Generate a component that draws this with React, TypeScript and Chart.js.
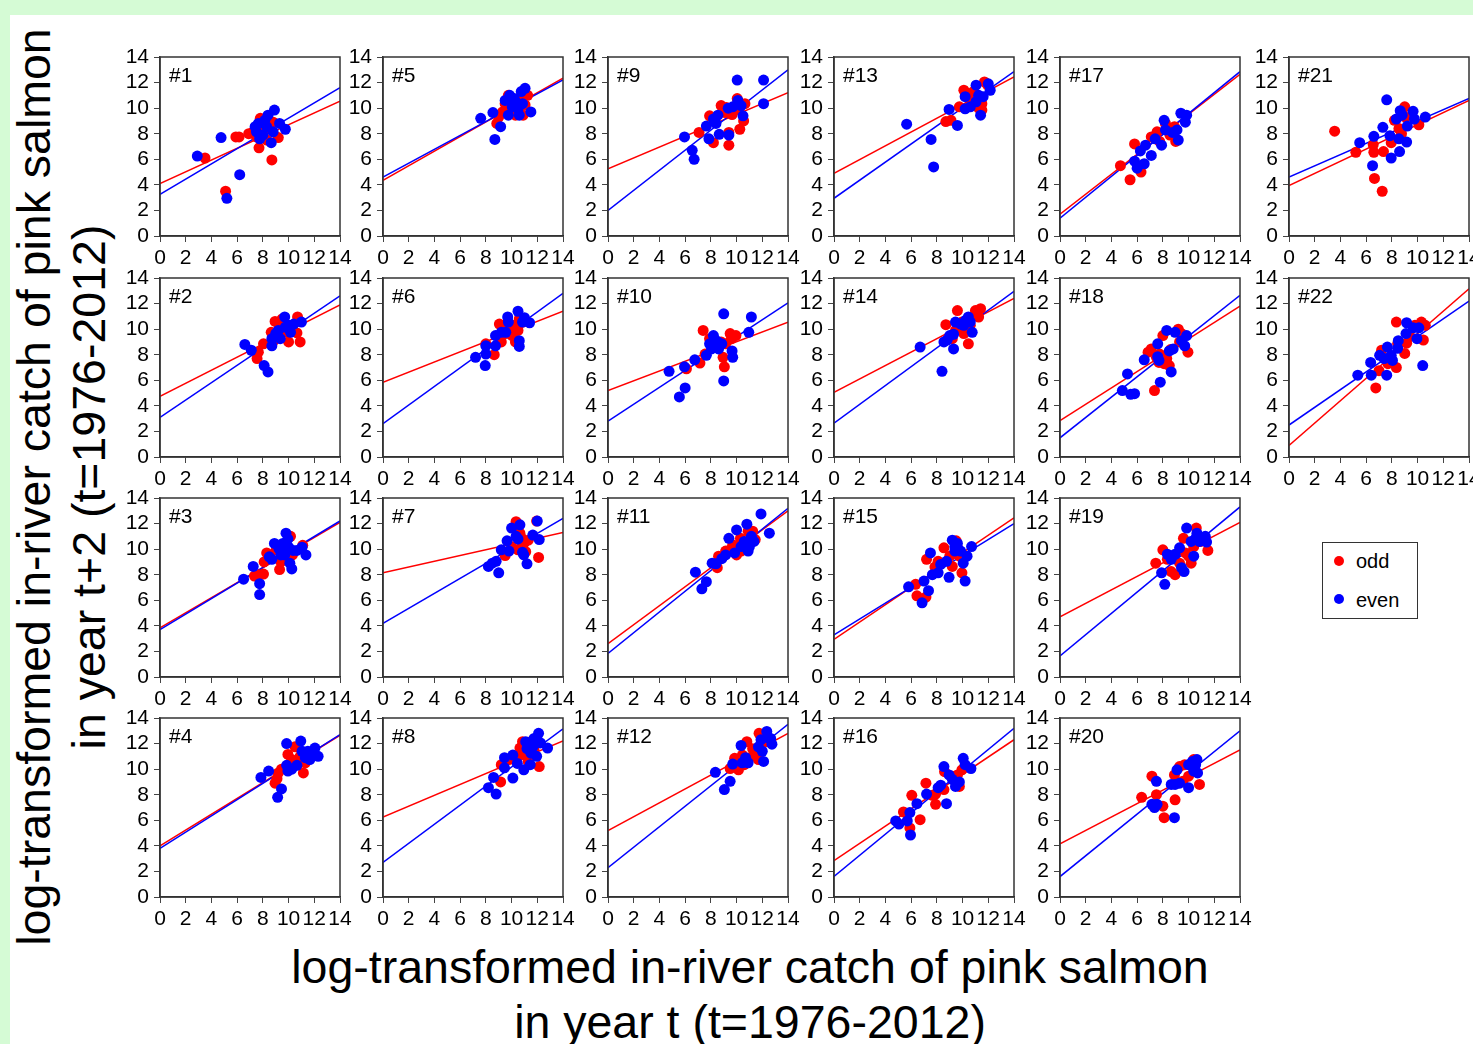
import React, { useEffect, useRef } from 'react';
import { Chart, registerables } from 'chart.js';

Chart.register(...registerables);

type Pt = [number, number];

// ---------- data ----------
const axisTicks = [0, 2, 4, 6, 8, 10, 12, 14];
const panelNames = ['#1', '#2', '#3', '#4', '#5', '#6', '#7', '#8', '#9', '#10', '#11',
  '#12', '#13', '#14', '#15', '#16', '#17', '#18', '#19', '#20', '#21', '#22'];
const legendLabels = ['odd', 'even'];
const yTitleLines = ['log-transformed in-river catch of pink salmon', 'in year t+2 (t=1976-2012)'];
const xTitleLines = ['log-transformed in-river catch of pink salmon', 'in year t (t=1976-2012)'];

// regression lines: [y at x=0, y at x=14]
const oddLines: Pt[] = [
  [4.1, 10.55], [4.75, 11.9], [3.85, 12.1], [4.0, 12.65], [4.35, 12.35], [5.85, 11.4],
  [8.15, 11.3], [6.25, 12.2], [5.25, 11.2], [5.2, 10.55], [2.6, 13.0], [5.2, 12.8],
  [4.9, 12.45], [5.05, 12.4], [2.95, 12.45], [2.85, 12.3], [1.7, 12.65], [2.85, 11.8],
  [4.7, 12.1], [4.15, 11.5], [3.95, 10.6], [0.9, 13.15],
];
const evenLines: Pt[] = [
  [3.25, 11.6], [3.1, 12.6], [3.7, 12.2], [3.8, 12.7], [4.6, 12.2], [2.6, 12.8],
  [4.2, 12.4], [2.7, 13.15], [2.0, 13.0], [2.8, 12.05], [1.85, 13.2], [2.3, 13.5],
  [2.95, 12.85], [2.65, 12.95], [3.3, 12.0], [1.6, 13.2], [1.4, 12.85], [1.5, 12.65],
  [1.65, 13.3], [1.6, 13.0], [4.6, 10.75], [2.5, 12.2],
];

const odd1: Pt[] = [[3.5,6.1],[5.1,3.5],[5.9,7.75],[6.15,7.75],[6.9,8.0],[7.8,9.2],[7.7,6.9],[8.7,5.95],[9.2,7.7],[8.0,8.15],[7.5,7.75],[8.4,8.4],[8.8,8.9],[7.25,8.15],[8.3,7.5]];
const even1: Pt[] = [[2.9,6.25],[4.75,7.7],[6.2,4.8],[5.2,2.95],[8.9,9.85],[9.75,8.35],[9.3,8.8],[8.4,9.45],[7.65,8.8],[7.5,8.15],[8.0,7.9],[8.65,7.3],[8.3,8.55],[7.75,7.6],[8.8,8.15],[8.15,9.05],[7.4,8.55]];
const odd2: Pt[] = [[7.55,7.7],[7.65,8.2],[8.05,8.85],[8.65,9.75],[8.95,10.6],[9.3,10.3],[9.7,9.75],[10.0,9.0],[10.15,10.0],[10.65,9.7],[10.7,10.95],[10.9,9.0],[9.5,10.8],[8.85,9.1]];
const even2: Pt[] = [[6.6,8.8],[7.1,8.35],[8.1,7.15],[8.4,6.65],[8.7,8.7],[8.7,9.25],[9.0,9.65],[9.35,9.25],[9.7,10.95],[9.75,10.15],[10.15,9.75],[10.4,10.4],[11.0,10.55],[9.2,9.9],[10.0,10.3]];
const odd3: Pt[] = [[7.35,7.9],[7.65,8.0],[8.05,8.05],[8.1,9.0],[8.3,9.7],[9.3,8.4],[9.4,9.0],[9.8,9.4],[10.15,11.0],[10.3,9.55],[11.1,10.3],[9.05,9.95],[9.65,10.3]];
const even3: Pt[] = [[6.5,7.65],[7.25,8.65],[7.75,7.3],[7.75,6.45],[8.5,9.4],[8.7,9.2],[8.9,10.45],[9.25,10.05],[9.4,9.55],[9.55,10.45],[9.8,11.25],[9.95,10.8],[10.0,10.15],[10.1,8.9],[10.25,8.45],[10.35,9.9],[10.65,9.9],[11.05,10.15],[11.35,9.55],[9.7,9.55]];
const odd4: Pt[] = [[8.95,8.9],[9.1,9.25],[9.2,9.7],[9.45,10.0],[9.95,11.15],[10.25,10.75],[10.5,11.75],[10.7,10.35],[11.15,9.7],[11.3,10.5],[11.4,11.15],[10.9,11.0]];
const even4: Pt[] = [[7.85,9.35],[8.45,9.85],[9.15,7.8],[9.45,8.45],[9.85,12.0],[9.85,10.3],[9.95,9.85],[10.25,10.0],[10.65,10.3],[10.95,12.2],[11.05,11.4],[11.3,10.9],[11.5,11.4],[11.65,10.75],[12.05,11.65],[12.3,11.0],[11.75,11.3]];
const odd5: Pt[] = [[8.85,8.8],[9.0,9.3],[9.75,11.0],[10.0,10.0],[10.3,9.45],[10.6,10.75],[10.9,9.45],[11.25,11.0],[9.5,10.35],[10.15,10.35],[11.05,10.25],[9.3,9.7]];
const even5: Pt[] = [[7.6,9.2],[8.55,9.65],[8.7,7.55],[9.15,8.55],[9.5,10.6],[9.75,9.45],[10.2,10.75],[10.5,9.95],[10.75,11.3],[11.05,11.55],[10.85,10.35],[11.5,9.7],[10.05,10.1],[10.3,10.5],[9.85,11.0],[10.6,9.45]];
const odd6: Pt[] = [[8.0,8.85],[8.65,8.0],[9.05,10.4],[9.2,9.0],[9.55,9.65],[9.75,10.0],[10.05,9.5],[10.3,9.0],[10.5,9.9],[10.6,10.8],[10.1,10.3],[9.45,10.3]];
const even6: Pt[] = [[7.2,7.8],[7.95,7.15],[8.0,8.05],[8.0,8.7],[8.75,8.7],[8.75,9.5],[9.2,9.75],[9.55,9.75],[9.7,10.95],[9.75,10.55],[10.5,11.4],[10.6,9.1],[10.6,8.65],[11.0,10.9],[11.4,10.5],[10.85,10.55]];
const odd7: Pt[] = [[9.5,9.5],[10.0,10.2],[10.35,12.15],[10.5,9.95],[10.65,11.25],[10.95,10.45],[11.1,9.8],[11.3,10.7],[12.1,9.35],[11.95,12.2],[10.2,11.65],[10.8,10.85]];
const even7: Pt[] = [[8.2,8.65],[8.5,8.9],[8.8,9.05],[9.0,8.15],[9.2,9.95],[9.65,10.65],[9.8,9.85],[10.0,11.65],[10.35,11.0],[10.65,11.9],[10.85,9.75],[10.95,9.55],[11.2,8.85],[11.65,11.1],[12.0,12.2],[12.15,10.75],[10.5,10.8]];
const odd8: Pt[] = [[9.15,9.0],[9.2,10.35],[9.8,10.75],[10.45,10.85],[10.65,11.65],[10.85,12.15],[11.1,11.1],[11.3,10.6],[11.5,12.15],[11.75,11.5],[12.15,10.2],[10.8,11.25],[11.2,11.7]];
const even8: Pt[] = [[8.2,8.55],[8.8,8.05],[8.6,9.35],[9.45,10.1],[9.45,10.9],[10.1,9.3],[10.1,11.1],[10.45,10.45],[10.95,9.95],[11.1,12.15],[11.2,11.6],[11.45,10.35],[11.65,11.75],[11.75,12.4],[11.95,11.0],[12.1,12.8],[12.25,12.05],[12.8,11.65],[11.5,11.25]];
const odd9: Pt[] = [[7.08,8.1],[7.9,9.4],[8.2,7.3],[8.8,10.2],[9.1,9.65],[9.4,8.1],[9.4,7.1],[9.65,9.5],[9.85,10.1],[10.05,10.75],[10.25,8.35],[10.55,9.0],[10.65,10.35],[9.2,10.05],[10.2,9.95]];
const even9: Pt[] = [[5.95,7.75],[6.55,6.7],[6.7,6.0],[7.65,8.6],[7.85,7.6],[8.4,8.8],[8.55,9.45],[8.65,7.95],[9.35,10.0],[9.4,7.9],[10.05,12.2],[10.1,10.6],[10.35,10.2],[10.5,9.4],[12.1,12.2],[12.1,10.35],[9.7,10.1],[8.2,9.15]];
const odd10: Pt[] = [[6.1,6.9],[7.15,7.35],[7.4,9.9],[7.55,8.05],[8.05,8.7],[8.35,9.0],[8.8,9.0],[8.95,7.8],[9.05,7.05],[9.15,8.85],[9.5,9.65],[9.6,9.25],[9.95,9.5],[7.9,9.25]];
const even10: Pt[] = [[4.75,6.7],[5.55,4.7],[6.0,5.4],[5.95,7.05],[6.75,7.6],[7.65,7.95],[7.9,8.85],[8.05,8.45],[8.2,9.5],[8.35,8.6],[8.5,9.05],[8.6,8.45],[9.0,11.2],[9.0,5.95],[9.65,8.3],[9.7,7.8],[10.95,9.75],[11.15,10.95],[8.85,8.85]];
const odd11: Pt[] = [[8.5,8.55],[8.6,9.45],[9.15,9.85],[9.7,10.35],[10.0,9.55],[10.3,10.85],[10.6,10.2],[10.9,11.4],[11.25,11.4],[11.45,10.75],[10.35,9.85],[9.5,9.95]];
const even11: Pt[] = [[6.8,8.2],[7.3,6.9],[7.65,7.45],[8.1,8.9],[8.4,8.85],[8.85,9.25],[9.15,9.55],[9.4,10.85],[9.85,9.7],[10.0,11.5],[10.35,10.2],[10.6,10.6],[10.8,11.95],[10.9,9.85],[11.15,11.0],[11.35,10.6],[11.9,12.75],[12.55,11.25],[11.0,10.2]];
const odd12: Pt[] = [[9.5,10.05],[9.85,10.85],[10.15,9.95],[10.45,11.1],[10.8,12.15],[11.0,10.9],[11.25,11.6],[11.6,10.95],[11.7,10.75],[11.75,12.8],[12.1,12.55],[12.35,12.15],[10.6,10.35]];
const even12: Pt[] = [[8.35,9.75],[9.05,8.4],[9.5,9.05],[9.7,10.4],[10.35,11.85],[10.45,10.5],[10.7,10.9],[10.9,10.5],[11.7,11.75],[11.9,12.3],[12.1,10.6],[12.35,12.95],[12.65,12.4],[12.75,11.95],[12.0,11.4],[12.45,12.45]];
const odd13: Pt[] = [[8.7,8.95],[9.1,9.05],[10.1,11.4],[9.75,10.1],[10.6,10.6],[11.25,10.0],[11.5,10.35],[11.7,12.05],[11.5,9.85],[10.85,11.3],[11.95,11.8],[10.4,11.15]];
const even13: Pt[] = [[5.65,8.75],[7.55,7.55],[7.75,5.4],[8.95,9.9],[9.6,8.65],[10.2,10.9],[10.2,9.95],[11.05,11.8],[11.05,10.5],[11.4,9.45],[11.25,11.0],[12.0,11.9],[12.15,11.4],[10.6,10.1],[11.6,10.9]];
const odd14: Pt[] = [[8.7,10.35],[9.2,9.25],[9.6,11.45],[10.1,9.65],[10.45,8.85],[10.6,10.3],[11.0,11.45],[11.15,11.05],[11.4,11.6],[11.25,10.95],[9.45,9.9],[9.95,10.55]];
const even14: Pt[] = [[6.7,8.6],[8.4,6.7],[8.55,9.0],[8.8,9.15],[9.3,9.6],[9.3,8.45],[9.45,10.55],[9.85,10.4],[10.25,10.7],[10.45,10.95],[10.6,10.55],[10.75,9.75],[9.0,9.5],[10.1,10.3]];
const odd15: Pt[] = [[6.35,7.25],[6.45,6.35],[7.15,6.25],[7.2,9.2],[8.1,9.05],[8.55,10.1],[9.0,9.45],[9.2,8.65],[9.5,10.65],[9.75,9.45],[9.95,8.15],[9.6,10.1],[7.85,8.6]];
const even15: Pt[] = [[5.8,7.05],[6.85,5.8],[7.0,7.5],[7.35,6.75],[7.5,9.7],[7.65,8.0],[8.1,8.15],[8.3,8.8],[8.75,9.05],[8.95,7.8],[9.2,10.7],[9.4,10.2],[9.6,10.45],[9.85,9.85],[10.05,8.9],[10.2,7.5],[10.35,9.45],[10.7,10.2],[9.4,9.85]];
const odd16: Pt[] = [[5.4,6.65],[5.9,5.4],[6.05,7.95],[6.7,6.05],[7.15,8.9],[7.9,7.25],[7.9,8.05],[8.55,8.4],[8.6,9.8],[9.2,9.45],[9.6,9.55],[9.75,8.65],[9.95,9.95],[7.65,7.95]];
const even16: Pt[] = [[4.8,5.95],[5.05,5.7],[5.7,5.95],[5.9,6.6],[5.95,4.85],[6.45,7.3],[7.2,8.05],[8.1,8.55],[8.3,8.75],[8.55,10.2],[8.75,7.3],[8.95,9.55],[9.2,9.2],[9.75,9.0],[10.05,10.85],[10.2,10.35],[10.65,10.05],[9.45,8.65]];
const odd17: Pt[] = [[4.7,5.5],[5.45,4.4],[5.8,7.2],[6.3,5.0],[7.55,8.15],[8.2,8.8],[8.55,7.9],[9.0,7.4],[7.75,7.4],[8.9,8.55],[7.1,7.75]];
const even17: Pt[] = [[5.8,5.85],[6.0,5.3],[6.25,6.65],[6.65,7.1],[6.55,5.65],[7.1,6.3],[7.4,7.6],[7.9,7.1],[8.1,9.05],[8.2,8.3],[8.75,8.1],[9.2,7.5],[9.4,9.6],[9.75,8.9],[9.85,9.45],[9.1,8.3]];
const odd18: Pt[] = [[6.85,8.2],[7.1,8.45],[7.35,5.2],[7.5,7.8],[7.75,8.05],[8.0,9.5],[8.1,7.3],[8.3,7.7],[8.5,7.15],[8.6,8.4],[9.2,10.0],[9.3,9.0],[9.95,8.2],[9.45,9.65],[7.7,7.4]];
const even18: Pt[] = [[4.85,5.2],[5.25,6.5],[5.5,4.9],[5.8,4.95],[6.55,7.6],[7.6,7.85],[7.6,8.85],[7.7,7.55],[7.8,5.85],[8.3,9.9],[8.5,8.3],[8.65,6.65],[8.95,9.75],[8.8,8.45],[9.45,9.1],[9.7,8.7],[9.85,9.5]];
const odd19: Pt[] = [[7.45,8.9],[8.0,9.95],[8.35,9.2],[8.65,8.25],[8.95,8.0],[9.3,8.9],[9.6,10.85],[9.75,9.7],[10.2,8.9],[10.4,10.2],[10.6,11.65],[10.95,10.6],[11.5,9.9],[10.0,9.45]];
const even19: Pt[] = [[7.9,8.15],[8.15,7.25],[8.35,9.6],[8.65,9.2],[8.95,9.6],[9.3,10.1],[9.45,8.55],[9.65,8.25],[9.85,11.65],[10.2,10.6],[10.4,9.45],[10.55,10.85],[10.85,10.6],[11.3,11.0],[11.4,10.55],[10.65,11.25]];
const odd20: Pt[] = [[6.35,7.8],[7.15,9.45],[7.5,8.0],[8.0,7.1],[8.1,6.2],[8.9,9.55],[8.95,7.6],[9.3,10.2],[9.55,9.05],[10.0,9.45],[10.2,10.35],[10.4,10.75],[10.85,8.8],[9.7,10.35]];
const even20: Pt[] = [[7.15,7.25],[7.35,7.0],[7.5,9.05],[7.55,7.25],[8.65,8.8],[8.9,6.2],[8.95,8.8],[9.1,9.95],[10.0,8.55],[10.0,10.35],[10.3,10.6],[10.4,9.85],[10.55,10.35],[10.65,10.75],[10.7,9.7],[9.3,8.9]];
const odd21: Pt[] = [[3.55,8.2],[5.2,6.55],[6.55,7.15],[6.6,6.55],[7.35,6.6],[6.65,4.5],[7.25,3.5],[7.95,7.3],[8.2,9.05],[8.75,8.0],[9.0,10.1],[9.05,9.3],[10.1,8.7],[8.55,8.4]];
const even21: Pt[] = [[5.5,7.3],[6.5,5.5],[6.6,7.8],[7.3,8.5],[7.6,10.65],[7.85,7.85],[7.95,6.1],[8.35,9.15],[8.55,7.6],[8.6,6.6],[8.65,9.8],[9.15,7.35],[9.2,8.6],[9.65,9.75],[9.75,9.15],[10.6,9.3],[8.8,9.45]];
const odd22: Pt[] = [[6.75,5.4],[7.0,6.75],[7.2,8.35],[7.7,7.3],[8.35,10.55],[8.35,7.0],[8.45,8.85],[9.0,8.1],[9.15,8.9],[9.4,9.45],[9.8,10.3],[10.3,10.55],[10.45,9.15],[10.6,10.3],[7.85,7.8]];
const even22: Pt[] = [[5.35,6.4],[6.35,7.4],[6.4,6.4],[7.05,7.95],[7.4,7.7],[7.6,6.4],[7.65,8.6],[8.05,7.55],[8.45,8.5],[8.5,9.1],[9.1,9.65],[9.15,10.5],[9.65,10.1],[9.95,9.25],[10.1,10.1],[10.4,7.15],[7.95,7.95]];

const oddSets: Pt[][] = [odd1, odd2, odd3, odd4, odd5, odd6, odd7, odd8, odd9, odd10, odd11,
  odd12, odd13, odd14, odd15, odd16, odd17, odd18, odd19, odd20, odd21, odd22];
const evenSets: Pt[][] = [even1, even2, even3, even4, even5, even6, even7, even8, even9, even10, even11,
  even12, even13, even14, even15, even16, even17, even18, even19, even20, even21, even22];

// ---------- layout / style ----------
const FONT = '"Liberation Sans", Arial, Helvetica, sans-serif';
const RED = '#ff0000';
const BLUE = '#0000ff';
const COL_LEFT = [160, 383, 608, 834, 1060, 1289];
const ROW_TOP = [57, 278, 498, 718];
const PLOT_W = 180;
const PLOT_H = 179;
const AXIS_W = 42;
const AXIS_H = 37;
const PAD_T = 20;
const PAD_R = 18;

const framePlugin = {
  id: 'frame',
  afterDatasetsDraw(chart: any, _args: any, opts: any) {
    const { ctx, chartArea } = chart;
    const { left, top, right, bottom } = chartArea;
    ctx.save();
    ctx.strokeStyle = '#333';
    ctx.lineWidth = 1.5;
    ctx.strokeRect(left, top, right - left, bottom - top);
    ctx.fillStyle = '#000';
    ctx.font = `21px ${FONT}`;
    ctx.textBaseline = 'alphabetic';
    ctx.textAlign = 'left';
    ctx.fillText(opts.label, left + 9, top + 25);
    ctx.restore();
  },
};

function scaleOptions(isX: boolean) {
  return {
    type: 'linear',
    min: 0,
    max: 14,
    afterBuildTicks: (s: any) => {
      s.ticks = axisTicks.map((v) => ({ value: v }));
    },
    ticks: {
      autoSkip: false,
      maxRotation: 0,
      minRotation: 0,
      color: '#000',
      font: { family: FONT, size: 21 },
      padding: isX ? 4 : 5,
    },
    grid: { display: true, drawOnChartArea: false, drawTicks: true, tickLength: 6, color: '#444', lineWidth: 1 },
    border: { display: true, color: '#333', width: 1.5 },
    afterFit: (s: any) => {
      if (isX) s.height = AXIS_H;
      else s.width = AXIS_W;
    },
  };
}

function Panel({ index }: { index: number }) {
  const ref = useRef<HTMLCanvasElement>(null);
  const col = Math.floor(index / 4);
  const row = index % 4;
  const cw = AXIS_W + PLOT_W + PAD_R;
  const ch = PAD_T + PLOT_H + AXIS_H;

  useEffect(() => {
    if (!ref.current) return;
    const toXY = (p: Pt) => ({ x: p[0], y: p[1] });
    const chart = new Chart(ref.current, {
      type: 'scatter',
      data: {
        datasets: [
          {
            data: evenSets[index].map(toXY),
            backgroundColor: BLUE,
            pointRadius: 5.5,
            pointBorderWidth: 0,
            pointHoverRadius: 5.5,
          } as any,
          {
            data: oddSets[index].map(toXY),
            backgroundColor: RED,
            pointRadius: 5.5,
            pointBorderWidth: 0,
            pointHoverRadius: 5.5,
          } as any,
          {
            type: 'line',
            data: [{ x: 0, y: evenLines[index][0] }, { x: 14, y: evenLines[index][1] }],
            borderColor: BLUE,
            borderWidth: 1.5,
            pointRadius: 0,
            showLine: true,
            fill: false,
          } as any,
          {
            type: 'line',
            data: [{ x: 0, y: oddLines[index][0] }, { x: 14, y: oddLines[index][1] }],
            borderColor: RED,
            borderWidth: 1.5,
            pointRadius: 0,
            showLine: true,
            fill: false,
          } as any,
        ],
      },
      options: {
        responsive: false,
        animation: false,
        events: [],
        layout: { padding: { top: PAD_T, right: PAD_R, left: 0, bottom: 0 } },
        plugins: {
          legend: { display: false },
          tooltip: { enabled: false },
          frame: { label: panelNames[index] },
        } as any,
        scales: {
          x: scaleOptions(true) as any,
          y: scaleOptions(false) as any,
        },
      },
      plugins: [framePlugin],
    });
    return () => chart.destroy();
  }, [index]);

  return (
    <canvas
      ref={ref}
      width={cw}
      height={ch}
      style={{
        position: 'absolute',
        left: COL_LEFT[col] - AXIS_W,
        top: ROW_TOP[row] - PAD_T,
        width: cw,
        height: ch,
      }}
    />
  );
}

export default function App() {
  useEffect(() => {
    document.body.style.margin = '0';
  }, []);

  const titleStyle: React.CSSProperties = {
    position: 'absolute',
    fontFamily: FONT,
    fontSize: 46.5,
    lineHeight: '55px',
    color: '#000',
    textAlign: 'center',
    whiteSpace: 'nowrap',
  };

  return (
    <div
      style={{
        position: 'absolute',
        left: 0,
        top: 0,
        width: 1473,
        height: 1044,
        background: '#d5fbd5',
        overflow: 'hidden',
      }}
    >
      <div style={{ position: 'absolute', left: 10, top: 15, width: 1463, height: 1029, background: '#ffffff' }} />
      {panelNames.map((_, i) => (
        <Panel key={i} index={i} />
      ))}
      {/* y title */}
      <div
        style={{
          ...titleStyle,
          left: 62 - 500,
          top: 487 - 55,
          width: 1000,
          height: 110,
          transform: 'rotate(-90deg)',
          transformOrigin: '50% 50%',
        }}
      >
        <div>{yTitleLines[0]}</div>
        <div>{yTitleLines[1]}</div>
      </div>
      {/* x title */}
      <div style={{ ...titleStyle, left: 150, top: 940, width: 1200, height: 110 }}>
        <div>{xTitleLines[0]}</div>
        <div>{xTitleLines[1]}</div>
      </div>
      {/* legend */}
      <div
        style={{
          position: 'absolute',
          left: 1322,
          top: 542,
          width: 94,
          height: 75,
          border: '1.5px solid #333',
          background: '#fff',
        }}
      />
      <div style={{ position: 'absolute', left: 1334, top: 556, width: 10, height: 10, borderRadius: '50%', background: RED }} />
      <div style={{ position: 'absolute', left: 1334, top: 594, width: 10, height: 10, borderRadius: '50%', background: BLUE }} />
      <div style={{ position: 'absolute', left: 1356, top: 551, fontFamily: FONT, fontSize: 20, lineHeight: '20px', color: '#000' }}>
        {legendLabels[0]}
      </div>
      <div style={{ position: 'absolute', left: 1356, top: 590, fontFamily: FONT, fontSize: 20, lineHeight: '20px', color: '#000' }}>
        {legendLabels[1]}
      </div>
    </div>
  );
}
